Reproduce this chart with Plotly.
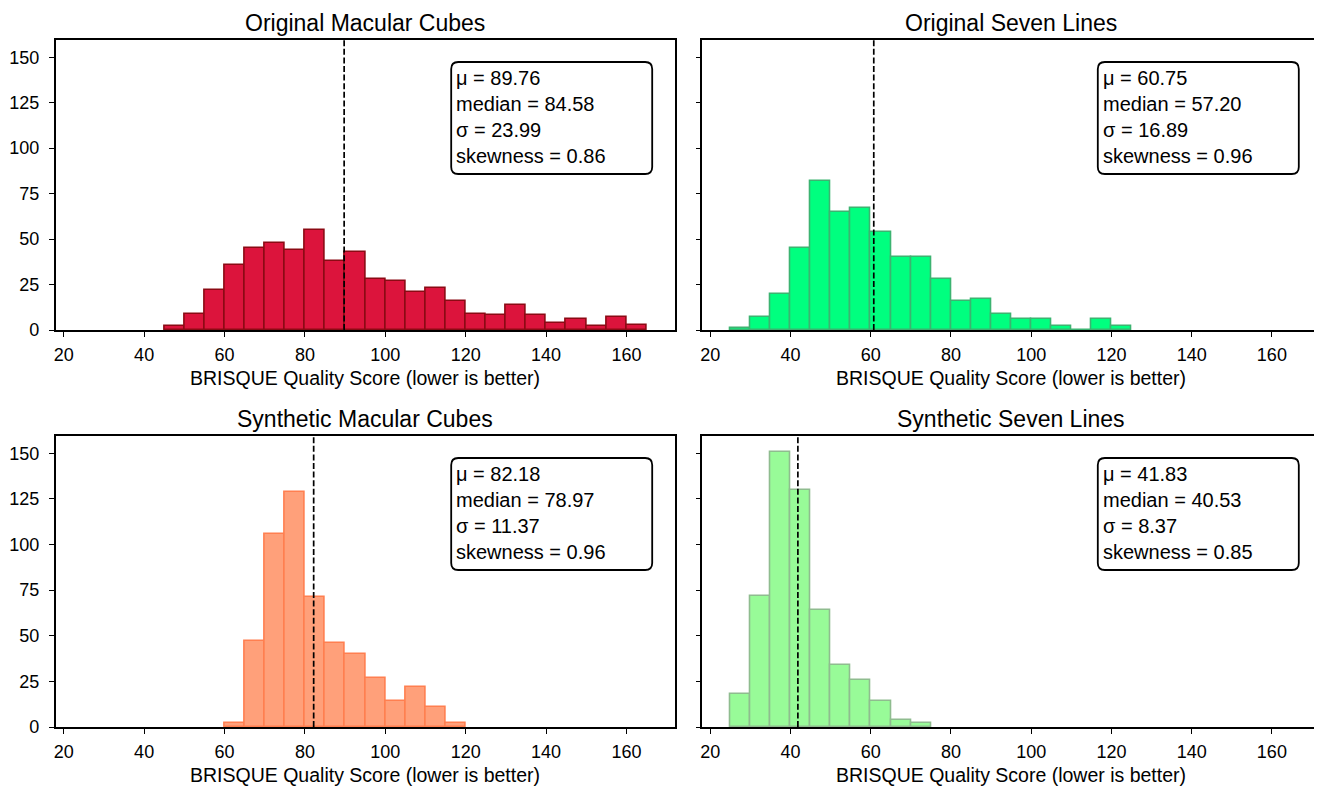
import plotly.graph_objects as go

# page body has an 8px default margin; size the figure to fill the rest
OFF = 8
W, H = 1322 - OFF, 786 - OFF

# ---------------- data ----------------
titles = ["Original Macular Cubes", "Original Seven Lines",
          "Synthetic Macular Cubes", "Synthetic Seven Lines"]

omc_bins = [45, 50, 55, 60, 65, 70, 75, 80, 85, 90, 95, 100, 105, 110, 115, 120,
            125, 130, 135, 140, 145, 150, 155, 160]
omc_counts = [2, 9, 22, 36, 45, 48, 44, 55, 38, 43, 28, 27, 21, 23, 16, 9,
              8, 14, 8, 4, 6, 2, 7, 3]

osl_bins = [25, 30, 35, 40, 45, 50, 55, 60, 65, 70, 75, 80, 85, 90, 95, 100,
            105, 110, 115, 120]
osl_counts = [1, 7, 20, 45, 82, 65, 67, 54, 40, 40, 28, 16, 17, 9, 6, 6,
              2, 0, 6, 2]

smc_bins = [60, 65, 70, 75, 80, 85, 90, 95, 100, 105, 110, 115]
smc_counts = [2, 47, 106, 129, 71, 46, 40, 27, 14, 22, 11, 2]

ssl_bins = [25, 30, 35, 40, 45, 50, 55, 60, 65, 70]
ssl_counts = [18, 72, 151, 130, 64, 34, 26, 14, 4, 2]

bin_width = 5

means = [89.76, 60.75, 82.18, 41.83]
medians = [84.58, 57.20, 78.97, 40.53]
stds = [23.99, 16.89, 11.37, 8.37]
skews = [0.86, 0.96, 0.96, 0.85]

x_ticks = [20, 40, 60, 80, 100, 120, 140, 160]
y_ticks = [0, 25, 50, 75, 100, 125, 150]
x_label = "BRISQUE Quality Score (lower is better)"

fills = ["#DC143C", "#00FF7F", "#FFA07A", "#98FB98"]
edges = ["#8B0A14", "#3CB371", "#FF7F50", "#8FBC8F"]

series = [(omc_bins, omc_counts), (osl_bins, osl_counts),
          (smc_bins, smc_counts), (ssl_bins, ssl_counts)]

# ---------------- layout geometry (window pixels) ----------------
AX_L = [55.7, 702.3, 55.7, 702.3]
AX_R = [674.7, 1320.0, 674.7, 1320.0]
AX_T = [40.0, 40.0, 436.0, 436.0]
AX_B = [330.0, 330.0, 727.0, 727.0]

def px(x):
    return (x - OFF) / W

def py(y):
    return 1 - (y - OFF) / H

FONT = "Liberation Sans, Arial, Helvetica, sans-serif"

fig = go.Figure()
shapes = []
annotations = []
layout_axes = {}

for i in range(4):
    n = "" if i == 0 else str(i + 1)
    bins, counts = series[i]
    fig.add_trace(go.Bar(
        x=bins, y=counts, width=bin_width, offset=0,
        marker=dict(color=fills[i], line=dict(color=edges[i], width=1.6)),
        xaxis="x" + n, yaxis="y" + n, showlegend=False,
        hovertemplate="%{x}: %{y}<extra></extra>",
    ))

    layout_axes["xaxis" + n] = dict(
        domain=[px(AX_L[i]), px(AX_R[i])], anchor="y" + n, automargin=False,
        range=[18, 172], tickvals=x_ticks, ticks="outside", ticklen=5,
        tickwidth=1.4, tickcolor="black", showline=True, linecolor="black",
        linewidth=1.6, mirror=True, showgrid=False, zeroline=False,
        ticklabelstandoff=3,
        tickfont=dict(family=FONT, size=18, color="black"),
    )
    layout_axes["yaxis" + n] = dict(
        domain=[py(AX_B[i]), py(AX_T[i])], anchor="x" + n, automargin=False,
        range=[0, 159.5], tickvals=y_ticks, ticks="outside", ticklen=5,
        tickwidth=1.4, tickcolor="black", showline=True, linecolor="black",
        linewidth=1.6, mirror=True, showgrid=False, zeroline=False,
        showticklabels=(i % 2 == 0), ticklabelstandoff=6,
        tickfont=dict(family=FONT, size=18, color="black"),
    )

    # mean line
    shapes.append(dict(
        type="line", xref="x" + n, yref="y" + n + " domain",
        x0=means[i], x1=means[i], y0=0, y1=1,
        line=dict(color="black", width=1.7, dash="6px,2.6px"),
    ))

    # rounded stats box
    bx0 = AX_L[i] + 395.5
    bx1 = AX_L[i] + 596.5
    by0 = AX_T[i] + 22
    by1 = AX_T[i] + 134
    r = 7
    path = (
        f"M {px(bx0 + r)},{py(by0)} L {px(bx1 - r)},{py(by0)} "
        f"Q {px(bx1)},{py(by0)} {px(bx1)},{py(by0 + r)} "
        f"L {px(bx1)},{py(by1 - r)} "
        f"Q {px(bx1)},{py(by1)} {px(bx1 - r)},{py(by1)} "
        f"L {px(bx0 + r)},{py(by1)} "
        f"Q {px(bx0)},{py(by1)} {px(bx0)},{py(by1 - r)} "
        f"L {px(bx0)},{py(by0 + r)} "
        f"Q {px(bx0)},{py(by0)} {px(bx0 + r)},{py(by0)} Z"
    )
    shapes.append(dict(type="path", xref="paper", yref="paper", path=path,
                       line=dict(color="black", width=1.8), fillcolor="white",
                       layer="above"))

    stats_text = (f"μ = {means[i]:.2f}<br>median = {medians[i]:.2f}<br>"
                  f"σ = {stds[i]:.2f}<br>skewness = {skews[i]:.2f}")
    annotations.append(dict(
        text=stats_text, xref="paper", yref="paper",
        x=px(bx0 + 3), y=py((by0 + by1) / 2 - 1), xanchor="left", yanchor="middle",
        align="left", showarrow=False,
        font=dict(family=FONT, size=20, color="black"),
    ))

    cx = (AX_L[i] + AX_R[i]) / 2
    # subplot title
    annotations.append(dict(
        text=titles[i], xref="paper", yref="paper",
        x=px(cx), y=py(AX_T[i] - 17), xanchor="center", yanchor="middle",
        showarrow=False, font=dict(family=FONT, size=23, color="black"),
    ))
    # x axis title
    annotations.append(dict(
        text=x_label, xref="paper", yref="paper",
        x=px(cx), y=py(AX_B[i] + 48), xanchor="center", yanchor="middle",
        showarrow=False, font=dict(family=FONT, size=19.5, color="black"),
    ))

fig.update_layout(
    width=W, height=H,
    margin=dict(l=0, r=0, t=0, b=0, autoexpand=False),
    paper_bgcolor="white", plot_bgcolor="white",
    bargap=0, shapes=shapes, annotations=annotations,
    font=dict(family=FONT, color="black"),
    **layout_axes,
)

fig.write_html("out.html")
